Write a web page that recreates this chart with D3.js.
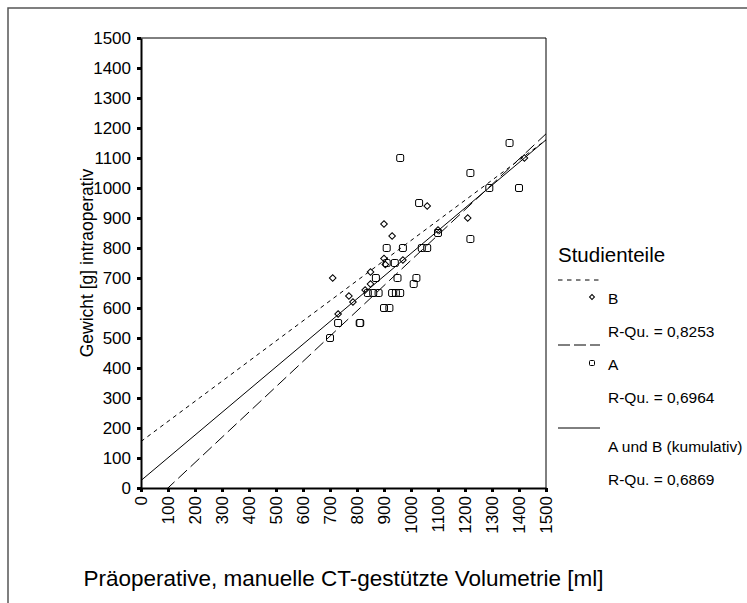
<!DOCTYPE html>
<html>
<head>
<meta charset="utf-8">
<script src="https://cdn.jsdelivr.net/npm/d3@7"></script>
<style>
  body { margin: 0; background: #fff; }
  svg { display: block; font-family: "Liberation Sans", Arial, sans-serif; }
</style>
</head>
<body>
<svg width="747" height="603"></svg>
<script>
// data
const ticks = [0, 100, 200, 300, 400, 500, 600, 700, 800, 900, 1000, 1100, 1200, 1300, 1400, 1500];

// Studienteil A (squares)
const aX = [1365, 960, 1220, 1290, 1400, 1030, 1220, 1100, 910, 970, 1040, 1060, 910, 940, 870, 950, 1020, 1010,
            840, 860, 880, 930, 944, 960, 900, 920, 810, 812, 730, 700];
const aY = [1150, 1100, 1050, 1000, 1000, 950, 830, 850, 800, 800, 800, 800, 750, 750, 700, 700, 700, 680,
            650, 650, 650, 650, 650, 650, 600, 600, 550, 550, 550, 500];

// Studienteil B (diamonds)
const bX = [1420, 1060, 1210, 900, 930, 1100, 900, 905, 970, 710, 850, 850, 830, 770, 785, 730];
const bY = [1100, 940, 900, 880, 840, 860, 765, 745, 760, 700, 720, 680, 660, 640, 620, 580];

// regression lines: [intercept, slope]
const fitB = [155, 0.67];
const fitA = [-84, 0.843];
const fitAll = [25, 0.757];

const svg = d3.select('svg');

// outer frame
svg.append('path')
    .attr('d', 'M8,603 V8 H747')
    .attr('fill', 'none')
    .attr('stroke', '#555')
    .attr('stroke-width', 1.5);

const x = d3.scaleLinear().domain([0, 1500]).range([141, 546]);
const y = d3.scaleLinear().domain([0, 1500]).range([488, 38]);

svg.append('clipPath').attr('id', 'clip')
    .append('rect')
    .attr('x', 141).attr('y', 38)
    .attr('width', 405).attr('height', 450);

// plot box top + right
svg.append('path')
    .attr('d', `M${x(0)},${y(1500)} H${x(1500)} V${y(0)}`)
    .attr('fill', 'none')
    .attr('stroke', '#000')
    .attr('stroke-width', 1);

// y axis
const yAxis = svg.append('g')
    .attr('transform', `translate(${x(0)},0)`)
    .call(d3.axisLeft(y).tickValues(ticks).tickFormat(d3.format('d'))
        .tickSize(4).tickPadding(6).tickSizeOuter(0));
yAxis.select('.domain').attr('stroke-width', 2);
yAxis.selectAll('.tick line').attr('stroke-width', 3);
yAxis.selectAll('.tick text')
    .attr('font-size', 17)
    .attr('font-family', '"Liberation Sans", Arial, sans-serif')
    .attr('fill', '#000');

// x axis
const xAxis = svg.append('g')
    .attr('transform', `translate(0,${y(0)})`)
    .call(d3.axisBottom(x).tickValues(ticks).tickFormat(d3.format('d'))
        .tickSize(4).tickSizeOuter(0));
xAxis.select('.domain').attr('stroke-width', 2);
xAxis.selectAll('.tick line').attr('stroke-width', 3);
xAxis.selectAll('.tick text')
    .attr('font-size', 17)
    .attr('font-family', '"Liberation Sans", Arial, sans-serif')
    .attr('fill', '#000')
    .attr('text-anchor', 'end')
    .attr('transform', 'rotate(-90)')
    .attr('x', -8)
    .attr('y', 0)
    .attr('dy', '0.35em');

// regression lines
const lines = [
    { fit: fitB, dash: '4,4' },
    { fit: fitA, dash: '12,5' },
    { fit: fitAll, dash: null }
];
svg.append('g').attr('clip-path', 'url(#clip)')
    .selectAll('line')
    .data(lines)
    .join('line')
    .attr('x1', x(0))
    .attr('y1', d => y(d.fit[0]))
    .attr('x2', x(1500))
    .attr('y2', d => y(d.fit[0] + d.fit[1] * 1500))
    .attr('stroke', '#000')
    .attr('stroke-width', 1)
    .attr('stroke-dasharray', d => d.dash);

// points A (squares)
svg.append('g')
    .selectAll('rect')
    .data(aX.map((v, i) => [v, aY[i]]))
    .join('rect')
    .attr('x', d => x(d[0]) - 3.5)
    .attr('y', d => y(d[1]) - 3.5)
    .attr('width', 7)
    .attr('height', 7)
    .attr('rx', 1.5)
    .attr('fill', 'none')
    .attr('stroke', '#000')
    .attr('stroke-width', 1);

// points B (diamonds)
const diamond = d3.symbol().type(d3.symbolSquare).size(22);
svg.append('g')
    .selectAll('path')
    .data(bX.map((v, i) => [v, bY[i]]))
    .join('path')
    .attr('d', diamond)
    .attr('transform', d => `translate(${x(d[0])},${y(d[1])}) rotate(45)`)
    .attr('fill', 'none')
    .attr('stroke', '#000')
    .attr('stroke-width', 1);

// axis titles
svg.append('text')
    .attr('x', x(750))
    .attr('y', 586)
    .attr('text-anchor', 'middle')
    .attr('font-size', 22.5)
    .text('Präoperative, manuelle CT-gestützte Volumetrie [ml]');

svg.append('text')
    .attr('transform', `translate(93,${y(750)}) rotate(-90)`)
    .attr('text-anchor', 'middle')
    .attr('font-size', 17.5)
    .text('Gewicht [g] intraoperativ');

// legend
const lg = svg.append('g');
lg.append('text').attr('x', 558).attr('y', 262).attr('font-size', 20.5).text('Studienteile');

const legendRows = [
    { dash: '4.5,4.5', ly: 280, marker: 'diamond', my: 297, label: 'B', r2: 'R-Qu. = 0,8253', ty: 304 },
    { dash: '12,4', ly: 345, marker: 'square', my: 363, label: 'A', r2: 'R-Qu. = 0,6964', ty: 370 },
    { dash: null, ly: 428, marker: null, my: 0, label: 'A und B (kumulativ)', r2: 'R-Qu. = 0,6869', ty: 452 }
];
legendRows.forEach(r => {
    lg.append('line')
        .attr('x1', 558).attr('x2', 600)
        .attr('y1', r.ly).attr('y2', r.ly)
        .attr('stroke', '#000').attr('stroke-width', 1)
        .attr('stroke-dasharray', r.dash);
    if (r.marker === 'diamond') {
        lg.append('path')
            .attr('d', d3.symbol().type(d3.symbolSquare).size(12))
            .attr('transform', `translate(592,${r.my}) rotate(45)`)
            .attr('fill', 'none').attr('stroke', '#000');
    } else if (r.marker === 'square') {
        lg.append('rect')
            .attr('x', 589.5).attr('y', r.my - 2.5)
            .attr('width', 5).attr('height', 5).attr('rx', 1)
            .attr('fill', 'none').attr('stroke', '#000');
    }
    lg.append('text').attr('x', 608).attr('y', r.ty).attr('font-size', 15.5).text(r.label);
    lg.append('text').attr('x', 608).attr('y', r.ty + 33).attr('font-size', 15.5).text(r.r2);
});
</script>
</body>
</html>
